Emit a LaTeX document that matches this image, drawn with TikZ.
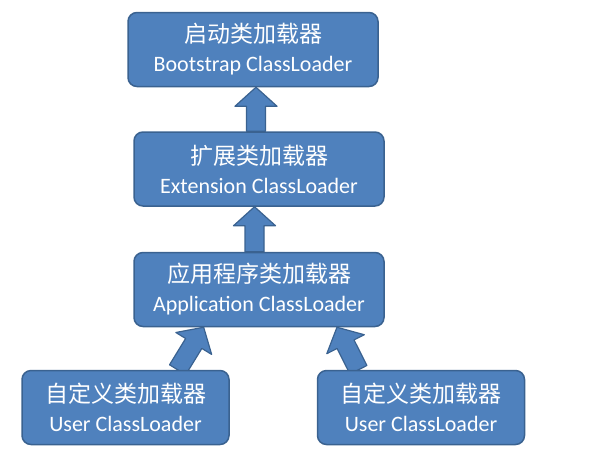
\documentclass[tikz,border=0pt]{standalone}
\usepackage{fontspec}
\setmainfont{Carlito}
\newfontfamily\cjk{Noto Sans CJK SC}
\usetikzlibrary{positioning,calc,backgrounds}
\definecolor{loaderblue}{HTML}{4F81BD}
\definecolor{loaderedge}{HTML}{3A6290}
\newcommand\BlockArrow[2]{%
  \path (#2) coordinate (arrowtip) ($(#2)!19pt!(#1)$) coordinate (arrowbase);
  \filldraw[loaderblue, draw=loaderedge, line width=1.2pt, line join=round]
    ($(#1)!9.5pt!90:(arrowtip)$) -- ($(arrowbase)!9.5pt!90:(arrowtip)$)
    -- ($(arrowbase)!21pt!90:(arrowtip)$) -- (arrowtip)
    -- ($(arrowbase)!21pt!-90:(arrowtip)$) -- ($(arrowbase)!9.5pt!-90:(arrowtip)$)
    -- ($(#1)!9.5pt!-90:(arrowtip)$) -- cycle;}

\begin{document}
\begin{tikzpicture}[x=1pt, y=1pt]
    \tikzset{loader/.style={rectangle, rounded corners=9pt, fill=loaderblue,
        draw=loaderedge, line width=1.5pt, text=white, align=center,
        minimum width=250pt, minimum height=74pt, inner sep=0pt,
        font=\fontsize{22}{29}\selectfont},
      user/.style={loader, minimum width=207pt}}
    \useasboundingbox (0,0) rectangle (610,-459);
    \node[loader] (app) at (259,-289.5) {{\cjk\fontsize{23}{29}\selectfont 应用程序类加载器}\\Application ClassLoader};
    \node[loader, above=45pt of app] (ext) {{\cjk\fontsize{23}{29}\selectfont 扩展类加载器}\\Extension ClassLoader};
    \node[loader, above=44pt of ext, xshift=-6pt] (boot) {{\cjk\fontsize{23}{29}\selectfont 启动类加载器}\\Bootstrap ClassLoader};
    \node[user] (user1) at (125.5,-407.5) {{\cjk\fontsize{23}{29}\selectfont 自定义类加载器}\\User ClassLoader};
    \node[user] (user2) at (421,-407.5) {{\cjk\fontsize{23}{29}\selectfont 自定义类加载器}\\User ClassLoader};
    \coordinate (a1) at ($(ext.north)+(-3,0)$);
    \coordinate (t1) at (a1 |- boot.south);
    \coordinate (a2) at ($(app.north)+(-4.5,0)$);
    \coordinate (t2) at (a2 |- ext.south);
    \coordinate (a3) at ($(user1.north west)!0.75!(user1.north east)$);
    \coordinate (t3) at ($(app.south west)!0.28!(app.south east)$);
    \coordinate (a4) at ($(user2.north west)!0.2!(user2.north east)$);
    \coordinate (t4) at ($(app.south west)!0.81!(app.south east)$);
    \begin{scope}[on background layer]
        \BlockArrow{a1}{t1}
        \BlockArrow{a2}{t2}
        \BlockArrow{a3}{t3}
        \BlockArrow{a4}{t4}
    \end{scope}
\end{tikzpicture}
\end{document}
